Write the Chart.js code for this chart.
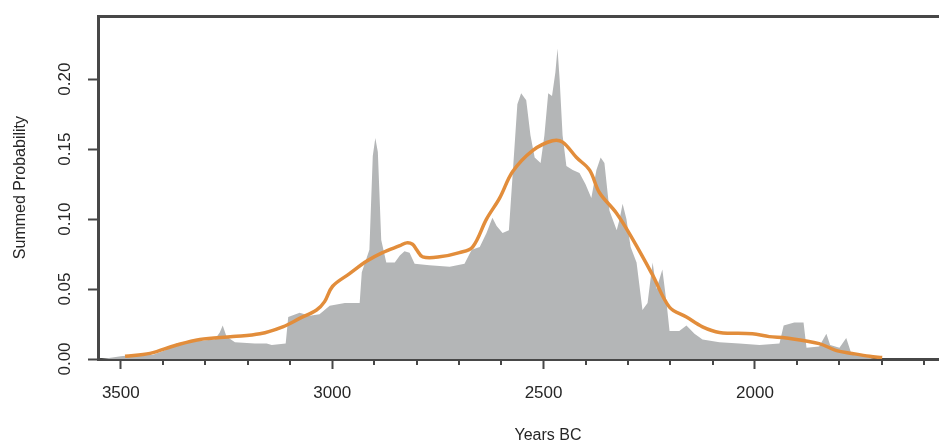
<!DOCTYPE html>
<html><head><meta charset="utf-8">
<script src="https://cdn.jsdelivr.net/npm/chart.js@4"></script>
<style>
html,body{margin:0;padding:0;overflow:hidden;background:#fff;}
#wrap{width:1000px;height:444px;}
</style></head><body>
<div id="wrap"><canvas id="c" width="1000" height="444"></canvas></div>
<script>
// Summed probability (grey area)
const spdYears = [3545,3520,3500,3467,3424,3396,3368,3337,3313,3278,3266,3259,3250,3230,3183,3155,3143,3110,3104,3077,3053,3030,3006,2970,2935,2930,2912,2904,2898,2892,2884,2872,2852,2840,2829,2817,2805,2770,2722,2687,2670,2651,2635,2621,2611,2597,2582,2574,2562,2553,2541,2531,2521,2507,2498,2489,2480,2472,2467,2462,2455,2446,2431,2415,2401,2387,2375,2365,2356,2344,2327,2320,2313,2304,2294,2280,2266,2254,2242,2233,2219,2209,2202,2179,2162,2143,2124,2084,2037,1989,1942,1932,1907,1885,1878,1848,1831,1822,1800,1784,1772,1741,1718];
const spdValues = [0,0.001,0.002,0.003,0.003,0.006,0.011,0.012,0.013,0.014,0.019,0.024,0.016,0.012,0.011,0.011,0.010,0.011,0.030,0.033,0.031,0.032,0.038,0.040,0.040,0.062,0.078,0.145,0.158,0.148,0.085,0.069,0.069,0.074,0.077,0.076,0.068,0.067,0.066,0.068,0.078,0.080,0.090,0.101,0.095,0.090,0.092,0.128,0.182,0.190,0.185,0.160,0.144,0.140,0.160,0.190,0.188,0.205,0.222,0.200,0.160,0.138,0.135,0.133,0.125,0.115,0.135,0.144,0.140,0.106,0.092,0.100,0.111,0.100,0.080,0.069,0.035,0.040,0.069,0.050,0.064,0.040,0.020,0.020,0.024,0.018,0.014,0.012,0.011,0.010,0.011,0.024,0.026,0.026,0.008,0.009,0.018,0.010,0.008,0.015,0.004,0.002,0];
// Smoothed curve (orange line)
const smoothYears = [3490,3431,3368,3313,3235,3171,3117,3077,3037,3018,2999,2959,2918,2881,2840,2824,2810,2800,2786,2746,2699,2668,2635,2604,2573,2526,2479,2455,2422,2391,2368,2327,2290,2242,2202,2162,2124,2084,2006,1966,1926,1848,1807,1770,1729,1699];
const smoothValues = [0.002,0.004,0.010,0.014,0.016,0.018,0.023,0.029,0.035,0.041,0.052,0.061,0.070,0.076,0.081,0.083,0.082,0.078,0.073,0.073,0.076,0.080,0.100,0.115,0.134,0.149,0.156,0.155,0.144,0.135,0.119,0.104,0.086,0.060,0.037,0.030,0.023,0.019,0.018,0.016,0.015,0.011,0.006,0.004,0.002,0.001];
// Axis ticks
const xMajorTicks = [3500,3000,2500,2000,1500];
const xMinorStep = 100;
const yTicks = [0,0.05,0.10,0.15,0.20];
const yTickLabels = ['0.00','0.05','0.10','0.15','0.20'];

const axisColor = '#474747';
const textColor = '#262626';
const fontFamily = '"Liberation Sans", Arial, sans-serif';
const X_MIN = 1425, X_MAX = 3554;

const minorTickPlugin = {
  id: 'minorTicks',
  afterDraw(chart) {
    const s = chart.scales.x, ctx = chart.ctx;
    ctx.save();
    ctx.strokeStyle = axisColor;
    ctx.lineWidth = 2;
    for (let v = Math.ceil(s.min / xMinorStep) * xMinorStep; v <= s.max; v += xMinorStep) {
      if (xMajorTicks.includes(v)) continue;
      const px = Math.round(s.getPixelForValue(v));
      ctx.beginPath();
      ctx.moveTo(px, s.top);
      ctx.lineTo(px, s.top + 6);
      ctx.stroke();
    }
    ctx.restore();
  }
};

new Chart(document.getElementById('c'), {
  type: 'line',
  data: {
    datasets: [
      {
        label: 'Smoothed',
        data: smoothYears.map((yr, i) => ({x: yr, y: smoothValues[i]})),
        borderColor: '#e28d3b',
        borderWidth: 3.5,
        pointRadius: 0,
        tension: 0.35,
        fill: false
      },
      {
        label: 'SPD',
        data: spdYears.map((yr, i) => ({x: yr, y: spdValues[i]})),
        borderWidth: 0,
        borderColor: 'rgba(0,0,0,0)',
        backgroundColor: '#b4b6b7',
        pointRadius: 0,
        tension: 0,
        fill: 'origin'
      }
    ]
  },
  options: {
    responsive: false,
    animation: false,
    devicePixelRatio: 1,
    layout: {padding: {left: 0, top: 0, right: 2, bottom: 0}},
    plugins: {legend: {display: false}, tooltip: {enabled: false}},
    scales: {
      x: {
        type: 'linear', position: 'bottom', reverse: true, min: X_MIN, max: X_MAX,
        afterBuildTicks: s => { s.ticks = xMajorTicks.map(v => ({value: v})); },
        afterFit: s => { s.height = 85; },
        ticks: {autoSkip: false, maxRotation: 0, padding: 14, color: textColor,
                font: {family: fontFamily, size: 17}, callback: v => String(v)},
        grid: {drawOnChartArea: false, tickLength: 10, tickWidth: 2, tickColor: axisColor},
        border: {color: axisColor, width: 3},
        title: {display: true, text: 'Years BC', color: textColor,
                font: {family: fontFamily, size: 16, lineHeight: 1}, padding: {top: 0, bottom: 0}}
      },
      x2: {
        type: 'linear', position: 'top', reverse: true, min: X_MIN, max: X_MAX,
        afterFit: s => { s.height = 16; },
        ticks: {display: false},
        grid: {display: false},
        border: {color: axisColor, width: 3}
      },
      y: {
        type: 'linear', position: 'left', min: 0, max: 0.245,
        afterBuildTicks: s => { s.ticks = yTicks.map(v => ({value: v})); },
        afterFit: s => { s.width = 98; },
        ticks: {minRotation: 90, maxRotation: 90, crossAlign: 'center', padding: 6, color: textColor,
                font: {family: fontFamily, size: 17},
                callback: (v, i) => yTickLabels[i]},
        grid: {drawOnChartArea: false, tickLength: 10, tickWidth: 2, tickColor: axisColor},
        border: {color: axisColor, width: 3},
        title: {display: true, text: 'Summed Probability', color: textColor,
                font: {family: fontFamily, size: 16, lineHeight: 1}, padding: {top: 13, bottom: 0}}
      }
    }
  },
  plugins: [minorTickPlugin]
});
</script>
</body></html>
